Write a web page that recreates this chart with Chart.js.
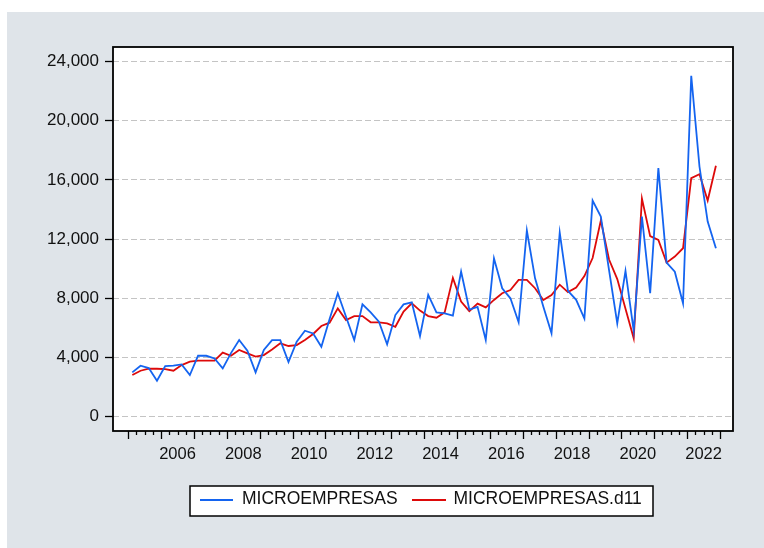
<!DOCTYPE html>
<html>
<head>
<meta charset="utf-8">
<script src="https://cdn.jsdelivr.net/npm/chart.js@4/dist/chart.umd.min.js"></script>
<style>
  html, body { margin: 0; padding: 0; background: #ffffff; }
  #wrap { position: relative; width: 764px; height: 548px; }
</style>
</head>
<body>
<div id="wrap"><canvas id="c" width="764" height="548"></canvas></div>
<script>
// ---- DATA ----
const quarters = [
  "2005Q1","2005Q2","2005Q3","2005Q4","2006Q1","2006Q2","2006Q3","2006Q4",
  "2007Q1","2007Q2","2007Q3","2007Q4","2008Q1","2008Q2","2008Q3","2008Q4",
  "2009Q1","2009Q2","2009Q3","2009Q4","2010Q1","2010Q2","2010Q3","2010Q4",
  "2011Q1","2011Q2","2011Q3","2011Q4","2012Q1","2012Q2","2012Q3","2012Q4",
  "2013Q1","2013Q2","2013Q3","2013Q4","2014Q1","2014Q2","2014Q3","2014Q4",
  "2015Q1","2015Q2","2015Q3","2015Q4","2016Q1","2016Q2","2016Q3","2016Q4",
  "2017Q1","2017Q2","2017Q3","2017Q4","2018Q1","2018Q2","2018Q3","2018Q4",
  "2019Q1","2019Q2","2019Q3","2019Q4","2020Q1","2020Q2","2020Q3","2020Q4",
  "2021Q1","2021Q2","2021Q3","2021Q4","2022Q1","2022Q2","2022Q3","2022Q4"
];
const microempresas = [
  3000, 3450, 3290, 2430, 3425, 3450, 3540, 2820,
  4120, 4120, 3940, 3270, 4300, 5180, 4460, 3000,
  4510, 5180, 5180, 3700, 5070, 5810, 5630, 4730,
  6600, 8340, 6760, 5180, 7590, 7050, 6420, 4890,
  6870, 7590, 7730, 5450, 8230, 7050, 6990, 6830,
  9800, 7240, 7420, 5180, 10700, 8680, 8000, 6380,
  12580, 9350, 7440, 5640, 12440, 8500, 7900, 6630,
  14600, 13520, 9900, 6310, 9850, 5800, 13520, 8340,
  16790, 10410, 9800, 7660, 23030, 16900, 13180, 11380
];
const microempresasD11 = [
  2820, 3110, 3245, 3245, 3220, 3110, 3490, 3720,
  3790, 3790, 3790, 4330, 4120, 4510, 4280, 4060,
  4170, 4550, 4960, 4780, 4845, 5180, 5590, 6130,
  6355, 7320, 6535, 6800, 6800, 6380, 6380, 6310,
  6080, 7100, 7660, 7170, 6800, 6690, 7050, 9380,
  7775, 7130, 7640, 7390, 7890, 8340, 8560, 9240,
  9240, 8680, 7890, 8225, 8920, 8420, 8730, 9500,
  10720, 13250, 10620, 9300, 7300, 5300, 14740, 12200,
  11940, 10410, 10820, 11380, 16110, 16380, 14600, 16950
];
const seriesNames = ["MICROEMPRESAS", "MICROEMPRESAS.d11"];
const xTickYears = ["2006","2008","2010","2012","2014","2016","2018","2020","2022"];
const yTickValues = [0, 4000, 8000, 12000, 16000, 20000, 24000];

// ---- helpers ----
const FONT = '"Liberation Sans", Arial, Helvetica, sans-serif';
const firstYear = parseInt(quarters[0].slice(0, 4), 10);
const yearCenter = y => (parseInt(y, 10) - firstYear) * 4 + 1.5;
const toXY = arr => arr.map((v, i) => ({ x: i, y: v }));

const decorPlugin = {
  id: 'decor',
  beforeDraw(chart) {
    const { ctx, chartArea: a } = chart;
    ctx.save();
    ctx.fillStyle = '#ffffff';
    ctx.fillRect(0, 0, chart.width, chart.height);
    ctx.fillStyle = '#dfe4e9';
    ctx.fillRect(7, 12, chart.width - 7, chart.height - 12);
    ctx.fillStyle = '#ffffff';
    ctx.fillRect(a.left, a.top, a.right - a.left, a.bottom - a.top);
    ctx.restore();
  },
  afterDraw(chart) {
    const { ctx, chartArea: a } = chart;
    const xs = chart.scales.x;
    ctx.save();
    // plot frame
    ctx.strokeStyle = '#000';
    ctx.lineWidth = 1.8;
    ctx.strokeRect(a.left, a.top, a.right - a.left, a.bottom - a.top);
    // quarter / year tick marks
    ctx.lineWidth = 1.3;
    for (let k = 0; k <= quarters.length; k++) {
      const px = Math.round(xs.getPixelForValue(k - 0.5)) + 0.5;
      const len = (k % 4 === 0) ? 8 : 4;
      ctx.beginPath();
      ctx.moveTo(px, a.bottom);
      ctx.lineTo(px, a.bottom + len);
      ctx.stroke();
    }
    // legend
    const lx = 190, ly = 486, lw = 463, lh = 30;
    ctx.fillStyle = '#ffffff';
    ctx.fillRect(lx, ly, lw, lh);
    ctx.strokeStyle = '#000';
    ctx.lineWidth = 1.5;
    ctx.strokeRect(lx, ly, lw, lh);
    const items = [
      { x0: 200, x1: 233, tx: 242 },
      { x0: 412, x1: 446, tx: 453.5 }
    ];
    ctx.font = '17.5px ' + FONT;
    ctx.textBaseline = 'middle';
    ctx.textAlign = 'left';
    chart.data.datasets.forEach((ds, i) => {
      const it = items[i];
      ctx.strokeStyle = ds.borderColor;
      ctx.lineWidth = 2;
      ctx.beginPath();
      ctx.moveTo(it.x0, 500);
      ctx.lineTo(it.x1, 500);
      ctx.stroke();
      ctx.fillStyle = '#111';
      ctx.fillText(ds.label, it.tx, 499.5);
    });
    ctx.restore();
  }
};

new Chart(document.getElementById('c'), {
  type: 'line',
  data: {
    labels: quarters,
    datasets: [
      {
        label: seriesNames[0],
        data: toXY(microempresas),
        borderColor: '#1464f0',
        backgroundColor: '#1464f0',
        borderWidth: 1.8,
        pointRadius: 0,
        tension: 0,
        fill: false
      },
      {
        label: seriesNames[1],
        data: toXY(microempresasD11),
        borderColor: '#dd0a0a',
        backgroundColor: '#dd0a0a',
        borderWidth: 1.8,
        pointRadius: 0,
        tension: 0,
        fill: false
      }
    ]
  },
  options: {
    responsive: false,
    animation: false,
    devicePixelRatio: 1,
    layout: { padding: { top: 47, right: 31, left: 0, bottom: 0 } },
    plugins: {
      legend: { display: false },
      tooltip: { enabled: false },
      title: { display: false }
    },
    scales: {
      x: {
        type: 'linear',
        min: -2.35,
        max: 73.08,
        afterFit(s) { s.height = 117; },
        afterBuildTicks(s) {
          s.ticks = xTickYears.map(y => ({ value: yearCenter(y) }));
        },
        grid: { display: true, drawOnChartArea: false, drawTicks: false },
        border: { display: false },
        ticks: {
          autoSkip: false,
          maxRotation: 0,
          padding: 14,
          color: '#111',
          font: { family: FONT, size: 16.5 },
          callback(v) {
            const idx = xTickYears.findIndex(y => Math.abs(yearCenter(y) - v) < 1e-6);
            return idx >= 0 ? xTickYears[idx] : '';
          }
        }
      },
      y: {
        min: -960,
        max: 24970,
        afterFit(s) { s.width = 113; },
        afterBuildTicks(s) {
          s.ticks = yTickValues.map(v => ({ value: v }));
        },
        grid: {
          color: '#c4c4c4',
          lineWidth: 1,
          drawTicks: true,
          tickLength: 8,
          tickColor: '#000',
          tickWidth: 1.3
        },
        border: { display: false, dash: [6, 3] },
        ticks: {
          padding: 6,
          color: '#111',
          font: { family: FONT, size: 17 },
          callback(v) { return Number(v).toLocaleString('en-US'); }
        }
      }
    }
  },
  plugins: [decorPlugin]
});
</script>
</body>
</html>
